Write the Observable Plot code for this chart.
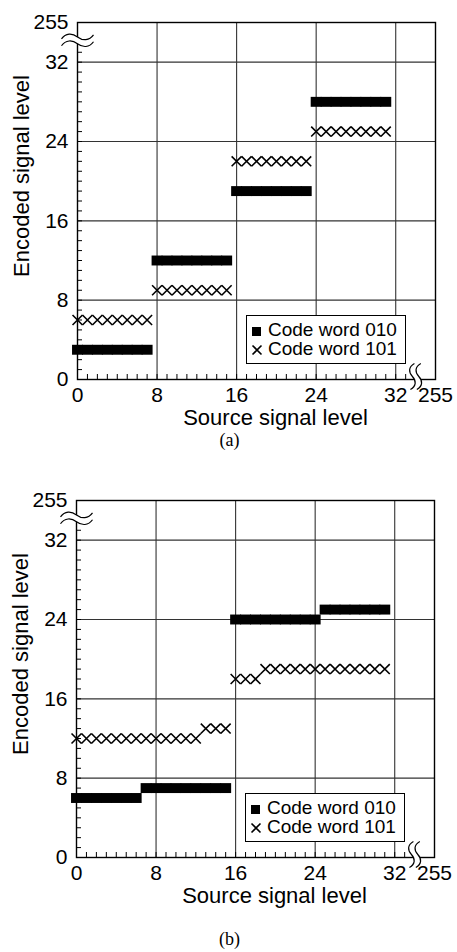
<!DOCTYPE html>
<html>
<head>
<meta charset="utf-8">
<script src="https://cdn.jsdelivr.net/npm/d3@7"></script>
<script src="https://cdn.jsdelivr.net/npm/@observablehq/plot@0.6"></script>
<style>
  body { margin: 0; background: #fff; }
  #root { position: relative; width: 457px; height: 952px; background: #fff; overflow: hidden;
          font-family: "Liberation Sans", Arial, sans-serif; }
  .fig { position: absolute; left: 0; }
  .caption { position: absolute; left: 0; width: 457px; text-align: center; padding-left: 2px; box-sizing: border-box;
             font-family: "Liberation Serif", "Times New Roman", serif; font-size: 18px; line-height: 18px; color: #000; }
  .legend { position: absolute; }
</style>
</head>
<body>
<div id="root"></div>
<script>
// ---------- data ----------
const sourceLevels = [0,1,2,3,4,5,6,7,8,9,10,11,12,13,14,15,16,17,18,19,20,21,22,23,24,25,26,27,28,29,30,31];
const seriesNames = ["Code word 010", "Code word 101"];

// chart (a)
const a010 = [3,3,3,3,3,3,3,3, 12,12,12,12,12,12,12,12, 19,19,19,19,19,19,19,19, 28,28,28,28,28,28,28,28];
const a101 = [6,6,6,6,6,6,6,6, 9,9,9,9,9,9,9,9, 22,22,22,22,22,22,22,22, 25,25,25,25,25,25,25,25];

// chart (b)
const b010 = [6,6,6,6,6,6,6, 7,7,7,7,7,7,7,7,7, 24,24,24,24,24,24,24,24,24, 25,25,25,25,25,25,25];
const b101 = [12,12,12,12,12,12,12,12,12,12,12,12,12, 13,13,13, 18,18,18, 19,19,19,19,19,19,19,19,19,19,19,19,19];

const tickValues = [0, 8, 16, 24, 32, 36];
const tickLabels = ["0", "8", "16", "24", "32", "255"];
const gridValues = [8, 16, 24, 32];
const minorTicks = [1,2,3,4,5,6,7,8,9,10,11,12,13,14,15,16,17,18,19,20,21,22,23,24,25,26,27,28,29,30,31,32,33];
const axisBreakAt = [34];
const xTitle = "Source signal level";
const yTitle = "Encoded signal level";
const captions = ["(a)", "(b)"];

// ---------- symbols ----------
const CELL = 358 / 36; // one level in pixels
const squareSym = {
  draw(ctx) {
    const w = CELL / 2 + 0.5, h = CELL / 2;
    ctx.moveTo(-w, -h); ctx.lineTo(w, -h); ctx.lineTo(w, h); ctx.lineTo(-w, h); ctx.closePath();
  }
};
const timesSym = {
  draw(ctx) {
    const h = CELL / 2;
    ctx.moveTo(-h, -h); ctx.lineTo(h, h);
    ctx.moveTo(-h, h); ctx.lineTo(h, -h);
  }
};
function breakSymbol(vertical, filled, W, G) {
  return {
    draw(ctx) {
      const p = vertical ? (x, y) => [y, x] : (x, y) => [x, y];
      const k = W / 15;
      const M = (x, y) => ctx.moveTo(...p(x * k, y));
      const L = (x, y) => ctx.lineTo(...p(x * k, y));
      const C = (a, b, c, d, e, f) => ctx.bezierCurveTo(...p(a * k, b), ...p(c * k, d), ...p(e * k, f));
      if (filled) {
        M(-15, 2 - G);
        C(-11, -4 - G, -5, -4 - G, 0, -G);
        C(5, 4 - G, 11, 4 - G, 15, -2 - G);
        L(15, -2 + G);
        C(11, 4 + G, 5, 4 + G, 0, G);
        C(-5, -4 + G, -11, -4 + G, -15, 2 + G);
        ctx.closePath();
      } else {
        M(-15, 2 - G);
        C(-11, -4 - G, -5, -4 - G, 0, -G);
        C(5, 4 - G, 11, 4 - G, 15, -2 - G);
        M(-15, 2 + G);
        C(-11, -4 + G, -5, -4 + G, 0, G);
        C(5, 4 + G, 11, 4 + G, 15, -2 + G);
      }
    }
  };
}
const hBreakFill = breakSymbol(false, true, 16, 3.4);
const hBreakLine = breakSymbol(false, false, 16, 3.4);
const vBreakFill = breakSymbol(true, true, 13, 3.2);
const vBreakLine = breakSymbol(true, false, 13, 3.2);

// ---------- chart builder ----------
const root = document.getElementById("root");
const PW = 358, PH = 357, MT = 22, MB = 51;

function addFigure({top, marginLeft, v010, v101, caption, captionTop}) {
  const rows010 = sourceLevels.map((s, i) => ({s, v: v010[i]}));
  const rows101 = sourceLevels.map((s, i) => ({s, v: v101[i]}));
  const fmt = d => tickLabels[tickValues.indexOf(d)];
  const chart = Plot.plot({
    width: 457,
    height: MT + PH + MB,
    marginLeft,
    marginRight: 457 - marginLeft - PW,
    marginTop: MT,
    marginBottom: MB,
    x: {domain: [0, 36], ticks: tickValues, tickFormat: fmt, tickSize: 0, tickPadding: 8, label: null},
    y: {domain: [0, 36], ticks: tickValues, tickFormat: fmt, tickSize: 0, tickPadding: 9, label: null},
    style: {fontFamily: "'Liberation Sans', Arial, sans-serif", fontSize: "21px", color: "#000", background: "#fff", overflow: "visible"},
    marks: [
      Plot.ruleX(gridValues, {stroke: "#333", strokeWidth: 1.1}),
      Plot.ruleY(gridValues, {stroke: "#333", strokeWidth: 1.1}),
      Plot.ruleX(minorTicks, {stroke: "#000", strokeWidth: 1, insetTop: PH - 5}),
      Plot.ruleY(minorTicks, {stroke: "#000", strokeWidth: 1, insetRight: PW - 5}),
      Plot.dot(rows010, {x: "s", y: "v", symbol: squareSym, r: 5, fill: "#000", stroke: null}),
      Plot.dot(rows101, {x: "s", y: "v", symbol: timesSym, r: 5, fill: "none", stroke: "#000", strokeWidth: 1.6}),
      Plot.frame({stroke: "#000", strokeWidth: 1.4}),
      Plot.dot(axisBreakAt, {x: () => 0, y: d => d, dy: -2, symbol: hBreakFill, r: 5, fill: "#fff", stroke: null}),
      Plot.dot(axisBreakAt, {x: () => 0, y: d => d, dy: -2, symbol: hBreakLine, r: 5, fill: "none", stroke: "#000", strokeWidth: 1.2}),
      Plot.dot(axisBreakAt, {x: d => d, y: () => 0, dy: -3, symbol: vBreakFill, r: 5, fill: "#fff", stroke: null}),
      Plot.dot(axisBreakAt, {x: d => d, y: () => 0, dy: -3, symbol: vBreakLine, r: 5, fill: "none", stroke: "#000", strokeWidth: 1.2}),
      Plot.text([xTitle], {frameAnchor: "bottom", text: d => d, textAnchor: "middle", lineAnchor: "middle", dx: 19, dy: 38, fontSize: 22, fill: "#000"}),
      Plot.text([yTitle], {frameAnchor: "left", text: d => d, textAnchor: "middle", lineAnchor: "middle", rotate: -90, dx: -56, dy: -25, fontSize: 22, fill: "#000"})
    ]
  });
  const fig = document.createElement("div");
  fig.className = "fig";
  fig.style.top = top + "px";
  fig.appendChild(chart);
  root.appendChild(fig);

  // legend (inside plot area, lower right)
  const lw = 160, lh = 49;
  const lg = d3.create("svg").attr("class", "legend").attr("width", lw).attr("height", lh)
    .style("left", (marginLeft + 169) + "px").style("top", (top + MT + PH - 64) + "px")
    .style("font-family", "'Liberation Sans', Arial, sans-serif");
  lg.append("rect").attr("x", 0.5).attr("y", 0.5).attr("width", lw - 1).attr("height", lh - 1)
    .attr("fill", "#fff").attr("stroke", "#000").attr("stroke-width", 1);
  lg.append("rect").attr("x", 6).attr("y", 12).attr("width", 9).attr("height", 9).attr("fill", "#000");
  lg.append("path").attr("d", "M6.5,30.5L15.5,39.5M6.5,39.5L15.5,30.5").attr("stroke", "#000").attr("stroke-width", 1.6);
  lg.append("text").attr("x", 22).attr("y", 21).attr("font-size", 19).text(seriesNames[0]);
  lg.append("text").attr("x", 22).attr("y", 40).attr("font-size", 19).text(seriesNames[1]);
  root.appendChild(lg.node());

  const cap = document.createElement("div");
  cap.className = "caption";
  cap.style.top = captionTop + "px";
  cap.textContent = caption;
  root.appendChild(cap);
}

addFigure({top: 0, marginLeft: 77, v010: a010, v101: a101, caption: captions[0], captionTop: 431});
addFigure({top: 478, marginLeft: 76, v010: b010, v101: b101, caption: captions[1], captionTop: 930});
</script>
</body>
</html>
